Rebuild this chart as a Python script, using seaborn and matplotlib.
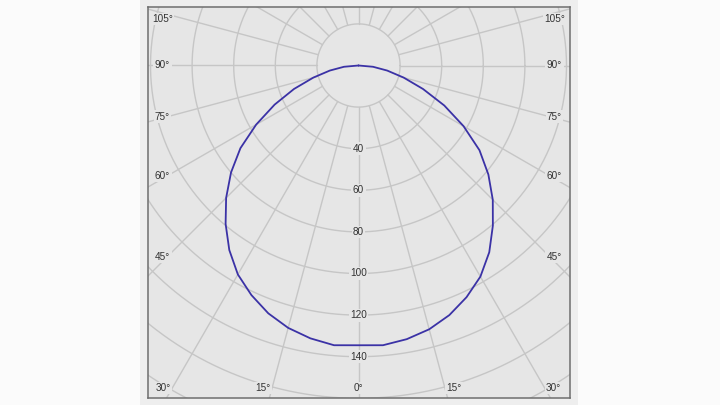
import numpy as np
import pandas as pd
import matplotlib
matplotlib.use("Agg")
import matplotlib.pyplot as plt
import seaborn as sns
from matplotlib.patches import Rectangle

# ---------------- data ----------------
angles_right = [0, 5, 10, 15, 20, 25, 30, 35, 40, 45, 50, 55, 60, 65, 70, 75, 80, 85, 90]
intensity_right = [134.5, 135.0, 133.6, 131.3, 127.7, 122.9, 117.2, 109.6, 100.5, 91.3,
                   81.5, 71.0, 58.3, 45.5, 33.0, 22.5, 14.0, 7.0, 0.0]
angles_left = [5, 10, 15, 20, 25, 30, 35, 40, 45, 50, 55, 60, 65, 70, 75, 80, 85, 90]
intensity_left = [135.0, 133.2, 130.6, 126.8, 121.8, 116.0, 108.3, 99.4, 90.0,
                  80.0, 69.3, 56.8, 44.5, 33.0, 22.5, 14.0, 7.0, 0.0]
radial_ticks = [40, 60, 80, 100, 120, 140]
grid_circles = [20, 40, 60, 80, 100, 120, 140, 160, 180, 200]
side_angle_labels = [45, 60, 75, 90, 105]
bottom_angle_labels = [0, 15, 30]

# ---------------- style ----------------
sns.set_style("white")
plt.rcParams['font.family'] = ['Liberation Sans', 'DejaVu Sans']

BG = '#e6e6e6'
GRID = '#c6c6c6'
TXT = '#333333'
CURVE = '#3b32a6'

W, H = 720, 405
S = 2.08                 # pixels per intensity unit
CX, CY = 358.5, 65.5     # pole position in pixels (from top-left)
FL, FR, FT, FB = 148, 570, 7, 398   # frame edges in pixels

fig = plt.figure(figsize=(W / 100, H / 100), dpi=100)
fig.patch.set_facecolor('#fbfbfb')
panel = Rectangle((140 / W, 0), (578 - 140) / W, 1, transform=fig.transFigure,
                  facecolor='#eeeeee', edgecolor='none', zorder=-5)
fig.add_artist(panel)
ax = fig.add_axes([FL / W, (H - FB) / H, (FR - FL) / W, (FB - FT) / H])
ax.set_zorder(3)
ax.set_facecolor(BG)
ax.set_xlim((FL - CX) / S, (FR - CX) / S)
ax.set_ylim(-(FB - CY) / S, (CY - FT) / S)
ax.set_xticks([])
ax.set_yticks([])
for sp in ax.spines.values():
    sp.set_color('#6e6e6e')
    sp.set_linewidth(1.1)


def px(xp, yp):
    return (xp - CX) / S, (CY - yp) / S


# grid circles
t = np.linspace(0, 2 * np.pi, 721)
for r in grid_circles:
    ax.plot(r * np.cos(t), r * np.sin(t), color=GRID, lw=1.0, zorder=1)

# radial lines every 15 degrees, starting at the hub circle
for a in range(0, 360, 15):
    th = np.deg2rad(a)
    ax.plot([20 * np.sin(th), 320 * np.sin(th)], [-20 * np.cos(th), -320 * np.cos(th)],
            color=GRID, lw=1.0, zorder=1)

# intensity curve (0 deg points down)
ang = [-a for a in angles_left[::-1]] + angles_right
val = intensity_left[::-1] + intensity_right
df = pd.DataFrame({'angle': ang, 'intensity': val})
rad = np.deg2rad(df['angle'])
df['x'] = df['intensity'] * np.sin(rad)
df['y'] = -df['intensity'] * np.cos(rad)
sns.lineplot(data=df, x='x', y='y', sort=False, estimator=None, color=CURVE,
             lw=1.3, ax=ax, zorder=5)
ax.set_xlabel('')
ax.set_ylabel('')

box = dict(facecolor=BG, edgecolor='none', pad=1.0)
fs = 7.2

# radial value labels along the 0 deg line
for r in radial_ticks:
    ax.text(0, -r, str(r), ha='center', va='center', fontsize=fs, color=TXT,
            bbox=box, zorder=4)

# side angle labels
for a in side_angle_labels:
    th = np.deg2rad(a)
    d = 196.0
    yp = CY + d / np.tan(th) - 0.1 * (90 - a)
    yp = max(yp, 19.0)
    for sgn in (-1, 1):
        x, y = px(CX + sgn * d, yp)
        ax.text(x, y, f"{a}°", ha='center', va='center', fontsize=fs, color=TXT,
                bbox=box, zorder=4)

# bottom angle labels
for a in bottom_angle_labels:
    th = np.deg2rad(a)
    dx = (FB - 10 - CY) * np.tan(th) + (9 if a > 0 else 0)
    for sgn in ((-1, 1) if a > 0 else (1,)):
        x, y = px(CX + sgn * dx, 388)
        ax.text(x, y, f"{a}°", ha='center', va='center', fontsize=fs, color=TXT,
                bbox=box, zorder=4)

fig.savefig('out.png', dpi=100, facecolor=fig.get_facecolor())
